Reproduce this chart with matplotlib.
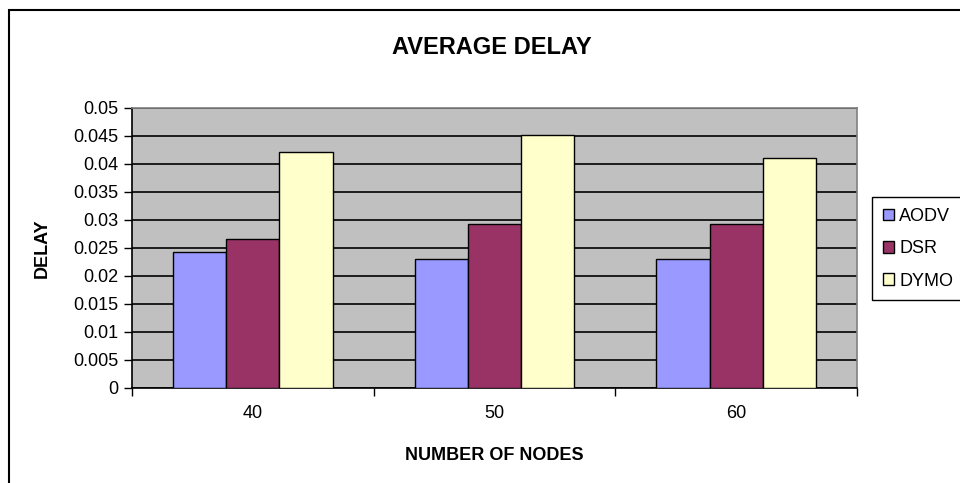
import matplotlib
matplotlib.use("Agg")
import matplotlib.pyplot as plt
import numpy as np
from matplotlib.patches import Rectangle

plt.rcParams['font.family'] = ['Liberation Sans', 'DejaVu Sans']

categories = ["40", "50", "60"]
series_names = ["AODV", "DSR", "DYMO"]
aodv = [0.0243, 0.0231, 0.0231]
dsr = [0.0266, 0.0293, 0.0293]
dymo = [0.0421, 0.0452, 0.0410]
colors = ["#9999FF", "#993366", "#FFFFCC"]
yticks = [0, 0.005, 0.01, 0.015, 0.02, 0.025, 0.03, 0.035, 0.04, 0.045, 0.05]
ytick_labels = ["0", "0.005", "0.01", "0.015", "0.02", "0.025", "0.03", "0.035", "0.04", "0.045", "0.05"]

fig = plt.figure(figsize=(9.6, 4.83), dpi=100)
ax = fig.add_axes([132/960, 1-388/483, (857-132)/960, (388-108)/483])
ax.set_facecolor("#C0C0C0")

x = np.arange(len(categories))
w = 0.22
for i, (vals, name, c) in enumerate(zip([aodv, dsr, dymo], series_names, colors)):
    ax.bar(x + (i-1)*w, vals, width=w, color=c, edgecolor="black", linewidth=1.0,
           label=name, zorder=3)

ax.set_xlim(-0.5, 2.5)
ax.set_ylim(0, 0.05)
ax.set_yticks(yticks)
ax.set_yticklabels(ytick_labels, fontsize=13)
ax.yaxis.grid(True, color="black", linewidth=1.2, zorder=1)
ax.set_axisbelow(True)

ax.set_xticks([-0.5, 0.5, 1.5, 2.5])
ax.set_xticklabels([])
ax.set_xticks(x, minor=True)
ax.set_xticklabels(categories, minor=True, fontsize=13)
ax.tick_params(axis='x', which='major', direction='out', length=6, width=1, color='black')
ax.tick_params(axis='x', which='minor', length=0, pad=12)
ax.tick_params(axis='y', direction='out', length=6, width=1, color='black', pad=4)

for s in ['top', 'right']:
    ax.spines[s].set_color('#808080')
    ax.spines[s].set_linewidth(1.2)
for s in ['left', 'bottom']:
    ax.spines[s].set_color('black')
    ax.spines[s].set_linewidth(1.2)

ax.set_xlabel("NUMBER OF NODES", fontsize=13, fontweight='bold', labelpad=18)
ax.set_ylabel("DELAY", fontsize=13, fontweight='bold', labelpad=16)
fig.text(492/960, 1-47/483, "AVERAGE DELAY", ha='center', va='center',
         fontsize=17, fontweight='bold')

leg = fig.legend(loc='upper left', bbox_to_anchor=(872/960, 1-197/483), fontsize=13,
                 frameon=True, fancybox=False, edgecolor='black', framealpha=1,
                 handlelength=0.6, handleheight=0.6, handletextpad=0.3,
                 labelspacing=0.85, borderpad=0.6, borderaxespad=0)
leg.get_frame().set_linewidth(1.0)

fig.patches.append(Rectangle((8.5/960, -0.05), 1.2, 1.05 - 10/483, transform=fig.transFigure,
                             fill=False, edgecolor='black', linewidth=1.5))

fig.savefig("out.png", dpi=100)
